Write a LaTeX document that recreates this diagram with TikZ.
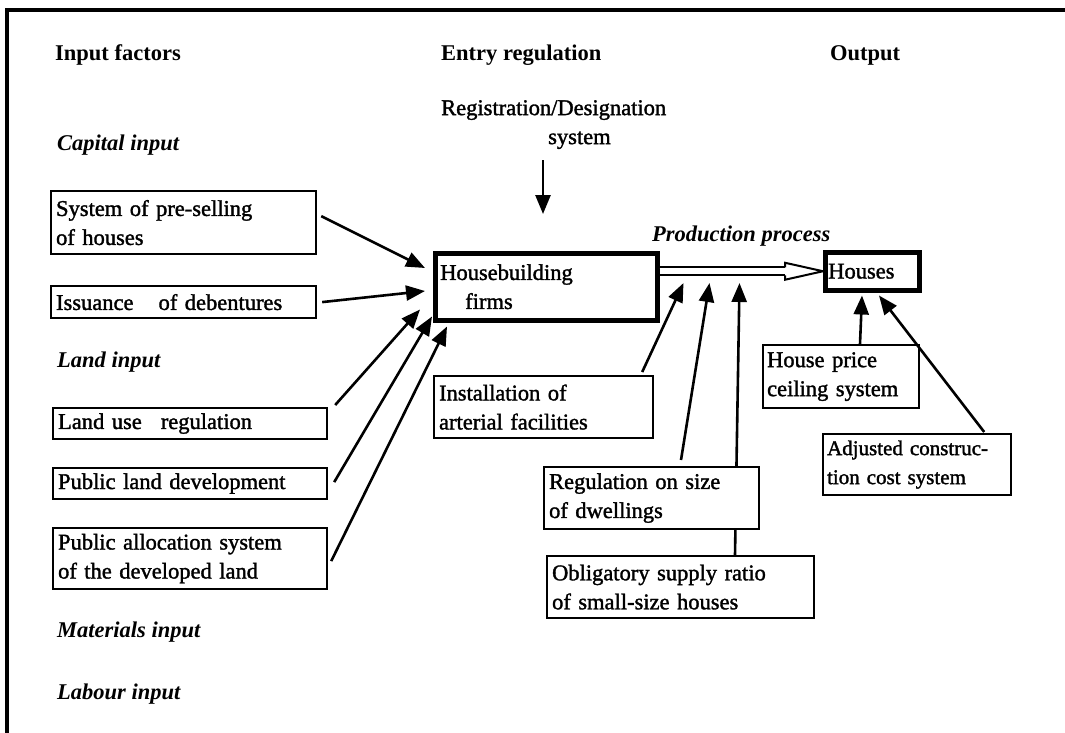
\documentclass[tikz,border=0pt]{standalone}
\usepackage{fontspec}
\setmainfont{Liberation Serif}
\newfontfamily\bodyfont{Liberation Serif}[FakeBold=1.5]
\usetikzlibrary{arrows.meta,calc}
\begin{document}
\begin{tikzpicture}[x=1pt,y=-1pt,
  txt/.style={font=\bodyfont\fontsize{22.5}{29}\selectfont, inner sep=0pt, align=left},
  head/.style={txt, font=\fontsize{22.5}{29}\selectfont\bfseries, anchor=west},
  sub/.style={txt, font=\fontsize{22.5}{29}\selectfont\bfseries\itshape, anchor=west},
  bx/.style={draw, line width=2.2pt, fill=white, anchor=north west,
    font=\bodyfont\fontsize{22.5}{29}\selectfont, align=left, inner xsep=5pt, inner ysep=2pt},
  hv/.style={bx, line width=4.5pt},
  arr/.style={line width=2.6pt, -{Triangle[length=19pt,width=15pt]}},
  flow/.style={line width=2pt, line join=miter},
]
\useasboundingbox (0,0) rectangle (1065,733);
\fill[white] (0,0) rectangle (1065,733);

% frame
\draw[line width=3.5pt] (7,740) -- (7,10) -- (1070,10);

% column headings
\node[head] (hin) at (55,55) {Input factors};
\node[head] (hen) at (441,55) {Entry regulation};
\node[head] (hout) at (830,55) {Output};

\node[txt, anchor=north west] (reg) at (441,100) {Registration/Designation\\\hspace*{107pt}system};

% input groups
\node[sub] (cap) at (57,145) {Capital input};
\node[sub] (land) at (57,362) {Land input};
\node[sub] (mat) at (57,632) {Materials input};
\node[sub] (lab) at (57,694) {Labour input};
\node[sub] (prod) at (652,236) {Production process};

% left boxes
\node[bx, text width=255pt, minimum height=63pt] (ps) at (50,190) {System of pre-selling\\of houses};
\node[bx, text width=255pt, minimum height=32pt] (is) at (50,285) {Issuance\hspace{25pt}of debentures};
\node[bx, text width=264pt, minimum height=31pt] (lu) at (52,407) {Land use\hspace{19pt}regulation};
\node[bx, text width=264pt, minimum height=31pt] (pl) at (52,467) {Public land development};
\node[bx, text width=264pt, minimum height=61pt] (pa) at (52,527) {Public allocation system\\of the developed land};

% firms and output
\node[hv, text width=212pt, minimum height=67pt] (hb) at (433,251) {Housebuilding\\\hspace*{25pt}firms};
\node[hv, text width=88pt, minimum height=38pt, inner xsep=3pt] (ho) at (823,250) {Houses};

% lower regulation boxes
\node[bx, text width=209pt, minimum height=62pt] (in) at (433,375) {Installation of\\arterial facilities};
\node[bx, text width=148pt, minimum height=63pt, inner xsep=4pt] (hp) at (762,344) {House price\\ceiling system};
\node[bx, text width=180pt, minimum height=61pt, inner xsep=4pt,
  font=\bodyfont\fontsize{21}{29}\selectfont] (ad) at (822,433) {Adjusted construc-\\tion cost system};

% obligatory ratio line runs behind the dwelling-size box
\node[bx, text width=257pt, minimum height=62pt] (ob) at (546,555) {Obligatory supply ratio\\of small-size houses};
\coordinate (obtop) at ($(ob.north west)+(189,0)$);
\coordinate (tob) at ($(hb.north east)+(80,32)$);
\draw[arr] (obtop) -- (tob);
\node[bx, text width=205pt, minimum height=62pt] (rg) at (543,466) {Regulation on size\\of dwellings};

% arrow tips near the firms box
\coordinate (t1) at ($(hb.north west)+(-8,17)$);
\coordinate (t2) at ($(hb.north west)+(-8,40)$);
\coordinate (t3) at ($(hb.south west)+(-13,-13)$);
\coordinate (t4) at ($(hb.south west)+(-1,-6)$);
\coordinate (t5) at ($(hb.south west)+(14,4)$);
\coordinate (tin) at ($(hb.north east)+(24,32)$);
\coordinate (trg) at ($(hb.north east)+(50,32)$);

% registration arrow
\draw[arr] ($(hb.north west)+(110,-91)$) -- ($(hb.north west)+(110,-37)$);

% input arrows
\draw[arr] ($(ps.east)+(4,-6.5)$) -- (t1);
\draw[arr] ($(is.east)+(5,0)$) -- (t2);
\draw[arr] ($(lu.north east)+(7,-2)$) -- (t3);
\draw[arr] ($(pl.east)+(6,-1.5)$) -- (t4);
\draw[arr] ($(pa.east)+(3,2.5)$) -- (t5);

% production process: double shaft with an open head
\coordinate (hbase) at ($(ho.west)+(-38,0)$);
\draw[flow, double, double distance=6pt] (hb.east |- ho.west) -- (hbase);
\draw[flow] ($(hbase)+(0,-4)$) -- ++(0,-4.5) -- (ho.west) -- ($(hbase)+(0,8.5)$) -- ++(0,-4.5);

% regulation arrows into production
\draw[arr] ($(in.north east)+(-12,-3)$) -- (tin);
\draw[arr] ($(rg.north west)+(138,-6)$) -- (trg);

% output regulation arrows
\draw[arr] ($(hp.north west)+(98,0)$) -- ($(ho.south west)+(39,3)$);
\draw[arr] ($(ad.north east)+(-28,-1)$) -- ($(ho.south west)+(56,3)$);
\end{tikzpicture}
\end{document}
